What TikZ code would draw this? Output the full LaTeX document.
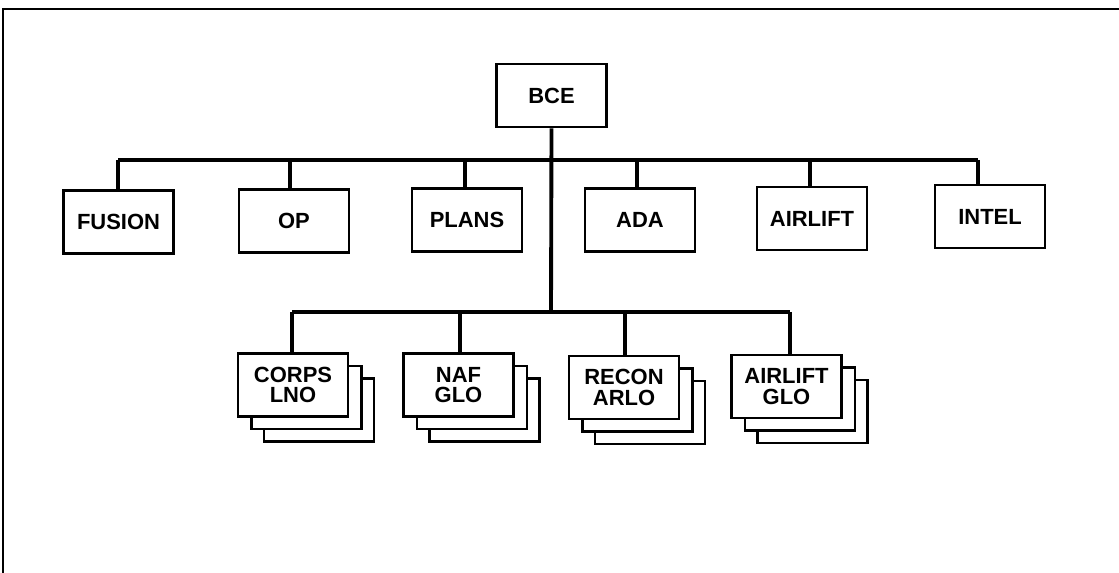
\documentclass[tikz,border=0pt]{standalone}
\usepackage{fontspec}
\setmainfont{Liberation Sans}
\usetikzlibrary{shadows}

\begin{document}
\begin{tikzpicture}[x=0.02cm, y=-0.02cm,
        unit/.style={draw, line width=1.6pt, fill=white, minimum width=2.2cm,
          minimum height=1.26cm, inner sep=0pt, align=center,
          font=\bfseries\fontsize{12.5}{11.5}\selectfont},
        stack/.style={unit,
          general shadow={shadow xshift=0.52cm, shadow yshift=-0.5cm, fill=white,
            draw=black, line width=1.6pt},
          general shadow={shadow xshift=0.27cm, shadow yshift=-0.25cm, fill=white,
            draw=black, line width=1.6pt}},
        link/.style={line width=2.2pt}]
        \useasboundingbox (0,0) rectangle (1119,573);
        % page frame
        \draw[line width=0.9pt] (3,573) -- (3,9) -- (1119,9);

        % head of the cell
        \node[unit] (bce) at (551.5,95.5) {BCE};

        % staff sections
        \node[unit] (fusion) at (118.5,222) {FUSION};
        \node[unit] (op) at (294,221) {OP};
        \node[unit] (plans) at (467,220) {PLANS};
        \node[unit] (ada) at (640,220) {ADA};
        \node[unit] (airlift) at (812,218.5) {AIRLIFT};
        \node[unit] (intel) at (990,216.5) {INTEL};

        % liaison teams
        \node[stack] (corps) at (293,385) {CORPS\\LNO};
        \node[stack] (naf) at (458.5,385) {NAF\\GLO};
        \node[stack] (recon) at (624,387.5) {RECON\\ARLO};
        \node[stack] (alglo) at (786.5,386.5) {AIRLIFT\\GLO};

        % upper bus
        \coordinate (ja) at (118,160);
        \coordinate (jb) at (290,160);
        \coordinate (jc) at (465,160);
        \coordinate (jd) at (637,160);
        \coordinate (je) at (810,160);
        \coordinate (jf) at (978,160);
        \draw[link] (ja) -- (jf);
        \draw[link] (ja) -- (ja |- fusion.north);
        \draw[link] (jb) -- (jb |- op.north);
        \draw[link] (jc) -- (jc |- plans.north);
        \draw[link] (jd) -- (jd |- ada.north);
        \draw[link] (je) -- (je |- airlift.north);
        \draw[link] (jf) -- (jf |- intel.north);

        % lower bus
        \coordinate (trunk) at (551,312);
        \coordinate (ka) at (292,312);
        \coordinate (kb) at (460,312);
        \coordinate (kc) at (625,312);
        \coordinate (kd) at (790,312);
        \draw[link] (bce.south) -- (trunk);
        \draw[link] (ka) -- (kd);
        \draw[link] (ka) -- (ka |- corps.north);
        \draw[link] (kb) -- (kb |- naf.north);
        \draw[link] (kc) -- (kc |- recon.north);
        \draw[link] (kd) -- (kd |- alglo.north);
\end{tikzpicture}
\end{document}
